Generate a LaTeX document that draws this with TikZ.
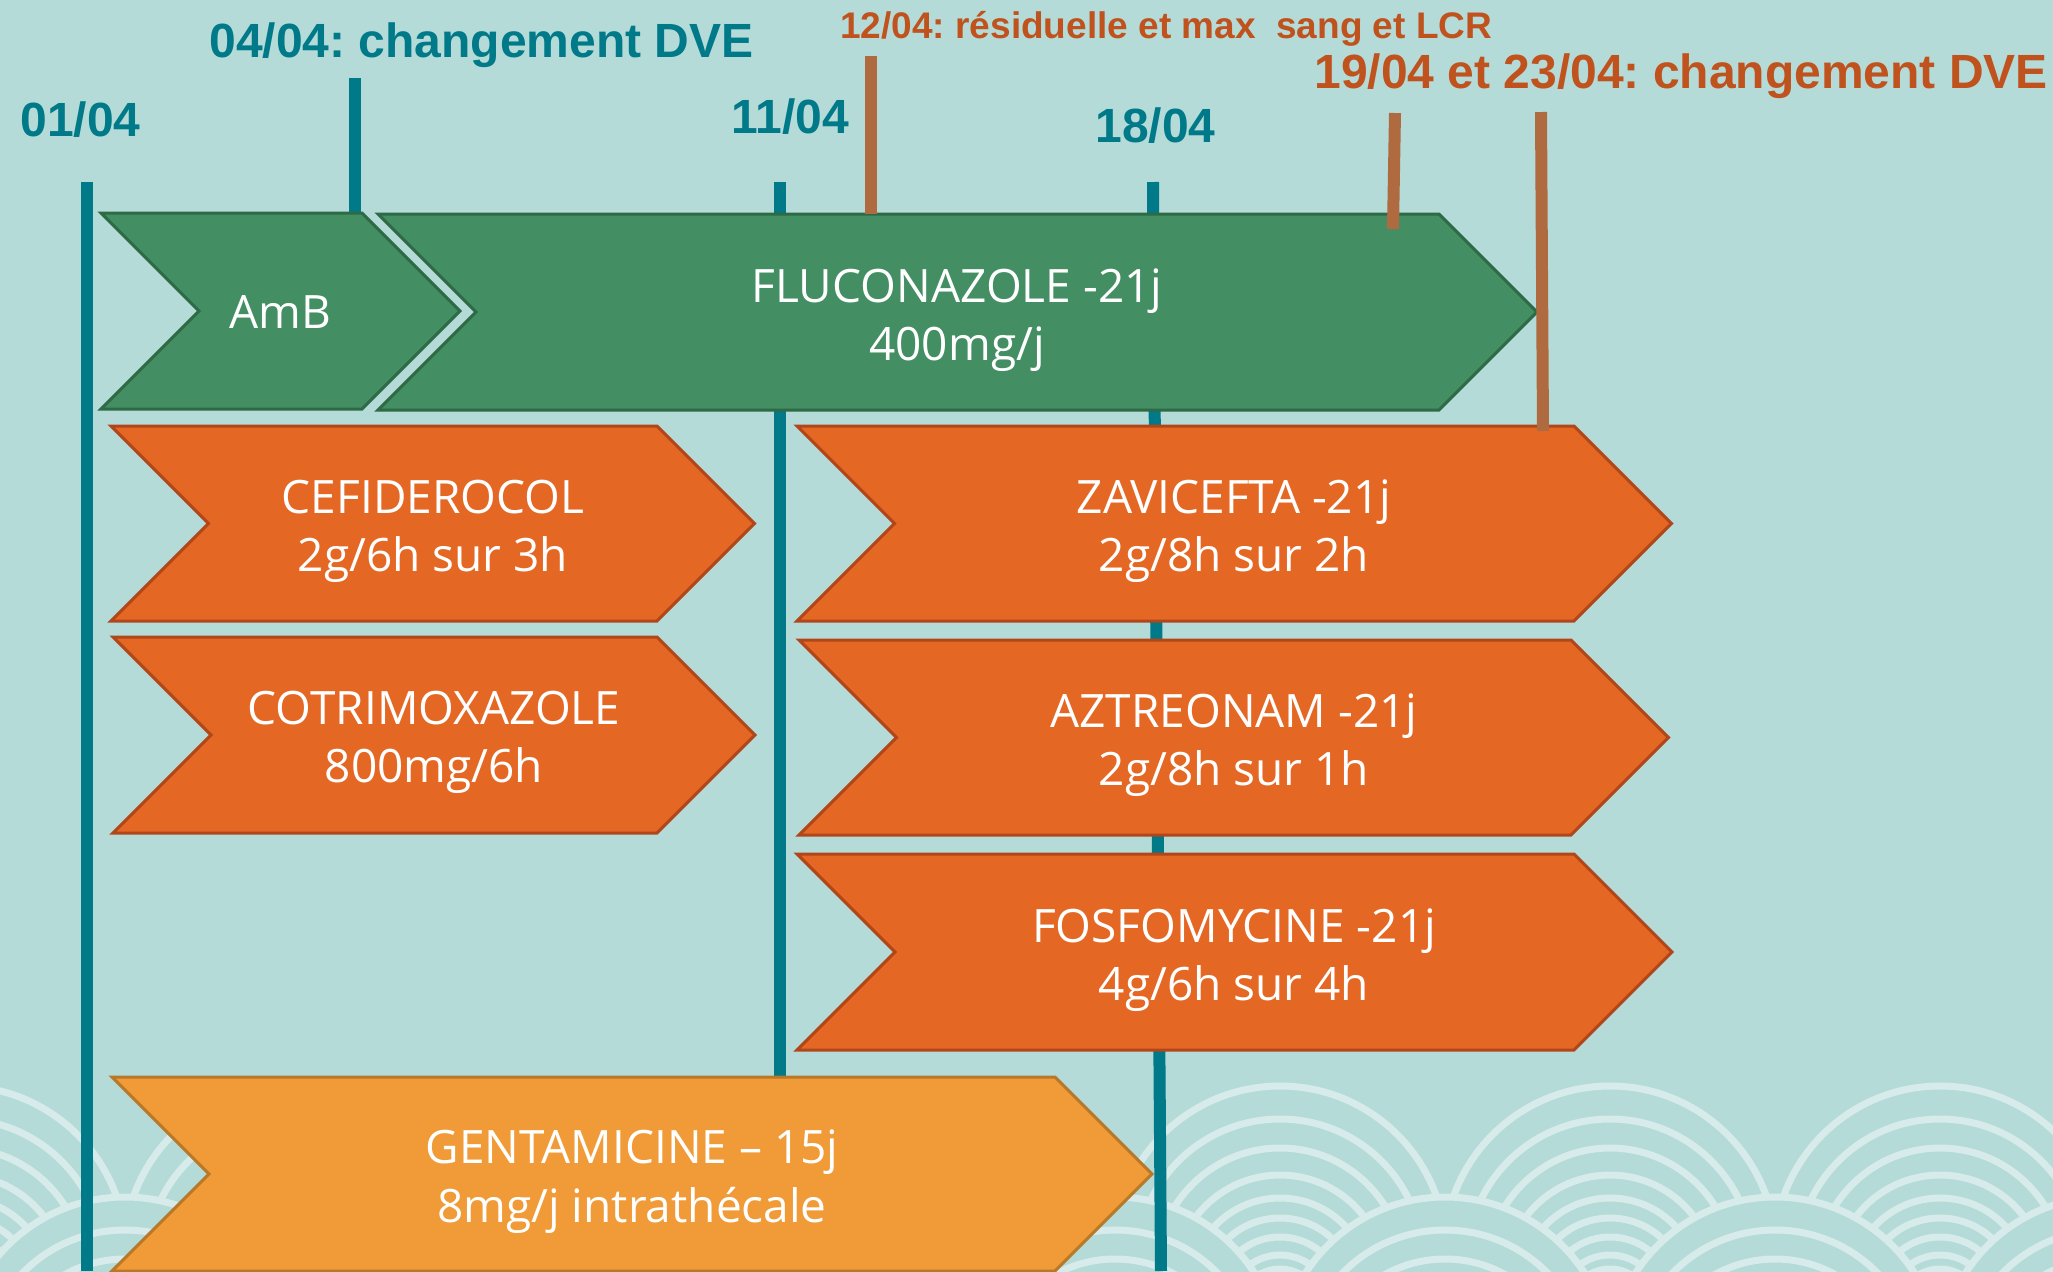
\documentclass[tikz,border=0pt]{standalone}
\usepackage{fontspec}
\setmainfont{Open Sans}
\newfontfamily\hdrfont{Liberation Sans}
\frenchspacing

\definecolor{bgc}{RGB}{180,219,216}
\definecolor{wavec}{RGB}{214,235,234}
\definecolor{tealc}{RGB}{0,121,137}
\definecolor{brownl}{RGB}{176,106,63}
\definecolor{brownt}{RGB}{192,82,30}
\definecolor{greenf}{RGB}{67,142,98}
\definecolor{greend}{RGB}{46,106,70}
\definecolor{orangef}{RGB}{228,103,36}
\definecolor{oranged}{RGB}{176,70,26}
\definecolor{goldf}{RGB}{240,155,55}
\definecolor{goldd}{RGB}{184,120,42}

\tikzset{
  daytick/.style={draw=tealc, line width=6pt},
  dvetick/.style={draw=brownl, line width=6pt},
  greenbox/.style={fill=greenf, draw=greend, line width=1.5pt, line join=miter},
  orangebox/.style={fill=orangef, draw=oranged, line width=1.5pt, line join=miter},
  goldbox/.style={fill=goldf, draw=goldd, line width=1.5pt, line join=miter},
  drugtxt/.style={text=white, font=\fontsize{23pt}{28pt}\selectfont, anchor=base, inner sep=0pt},
  daylbl/.style={text=tealc, font=\hdrfont\bfseries\fontsize{24pt}{28pt}\selectfont, anchor=base west, inner sep=0pt},
  dvelbl/.style={text=brownt, font=\hdrfont\bfseries\fontsize{24pt}{28pt}\selectfont, anchor=base west, inner sep=0pt},
  wave/.style={draw=wavec, line width=3.5pt},
}

% chevron: style, left x, right x (flat part), top y, bottom y
\newcommand\chevshape[5]{%
  \pgfmathsetmacro\chd{(#5-#4)/2}%
  \pgfmathsetmacro\chm{(#5+#4)/2}%
  \draw[#1] (#2,#4) -- (#3,#4) -- ({#3+\chd},\chm) -- (#3,#5) -- (#2,#5)
     -- ({#2+\chd},\chm) -- cycle;
}

% one group of nested arcs of the wave band: centre x, top y
\newcommand\wavegroup[2]{%
  \fill[bgc] (#1,{#2+166}) circle[radius=169];
  \foreach \o in {0,33,62,89,112,132,151,169,183,195,205} {
    \pgfmathsetmacro\wr{166-0.68*\o}
    \draw[wave] (#1,{#2+\o+\wr}) circle[radius=\wr];
  }
}

\begin{document}
\begin{tikzpicture}[x=0.5pt, y=-0.5pt]
\useasboundingbox (0,0) rectangle (2053,1271);
\fill[bgc] (0,0) rectangle (2053,1271);

% wave band along the bottom
\begin{scope}
  \clip (0,0) rectangle (2053,1271);
  \foreach \cx in {-40,290,620,950,1280,1610,1940,2270} { \wavegroup{\cx}{1086} }
  \foreach \cx in {125,455,785,1115,1445,1775,2105} { \wavegroup{\cx}{1197} }
\end{scope}

% day markers
\coordinate (d01a) at (87,182);   \coordinate (d01b) at (87,1271);
\coordinate (d04a) at (355,78);   \coordinate (d04b) at (355,214);
\coordinate (d11a) at (780,182);  \coordinate (d11b) at (780,1078);
\coordinate (d18a) at (1153,182); \coordinate (d18b) at (1161,1271);
\draw[daytick] (d01a) -- (d01b);
\draw[daytick] (d04a) -- (d04b);
\draw[daytick] (d11a) -- (d11b);
\draw[daytick] (d18a) -- (d18b);

% treatments
\chevshape{greenbox}{101}{362}{213}{409}
\chevshape{greenbox}{378}{1439}{214}{410}
\chevshape{orangebox}{111}{657}{426}{621}
\chevshape{orangebox}{113}{657}{637}{833}
\chevshape{orangebox}{797}{1574}{426}{621}
\chevshape{orangebox}{799}{1571}{640}{835}
\chevshape{orangebox}{797}{1574}{854}{1050}
\chevshape{goldbox}{112}{1055}{1077}{1271}

\node[drugtxt] (amb) at (280,328) {AmB};
\node[drugtxt] (flu1) at (957,302) {FLUCONAZOLE -21j};
\node[drugtxt] (flu2) at (957,360) {400mg/j};
\node[drugtxt] (cef1) at (433,513) {CEFIDEROCOL};
\node[drugtxt] (cef2) at (433,571) {2g/6h sur 3h};
\node[drugtxt] (cot1) at (434,724) {COTRIMOXAZOLE};
\node[drugtxt] (cot2) at (434,782) {800mg/6h};
\node[drugtxt] (zav1) at (1234,513) {ZAVICEFTA -21j};
\node[drugtxt] (zav2) at (1234,571) {2g/8h sur 2h};
\node[drugtxt] (azt1) at (1234,727) {AZTREONAM -21j};
\node[drugtxt] (azt2) at (1234,785) {2g/8h sur 1h};
\node[drugtxt] (fos1) at (1234,942) {FOSFOMYCINE -21j};
\node[drugtxt] (fos2) at (1234,1000) {4g/6h sur 4h};
\node[drugtxt] (gen1) at (632,1163) {GENTAMICINE – 15j};
\node[drugtxt] (gen2) at (632,1222) {8mg/j intrathécale};

% sampling and drain-change markers
\coordinate (e12a) at (871,56);   \coordinate (e12b) at (871,214);
\coordinate (e19a) at (1395,113); \coordinate (e19b) at (1393,229);
\coordinate (e23a) at (1541,112); \coordinate (e23b) at (1543,431);
\draw[dvetick] (e12a) -- (e12b);
\draw[dvetick] (e19a) -- (e19b);
\draw[dvetick] (e23a) -- (e23b);

% date labels
\node[daylbl] (l01) at (20,136) {01/04};
\node[daylbl] (l04) at (209,57) {04/04: changement DVE};
\node[daylbl] (l11) at (731,133) {11/04};
\node[daylbl] (l18) at (1095,142) {18/04};
\node[dvelbl, font=\hdrfont\bfseries\fontsize{18.5pt}{22pt}\selectfont] (l12) at (840,38) {12/04: résiduelle et max\ \ sang et LCR};
\node[dvelbl] (l19) at (1314,88) {19/04 et 23/04: changement DVE};
\end{tikzpicture}
\end{document}
